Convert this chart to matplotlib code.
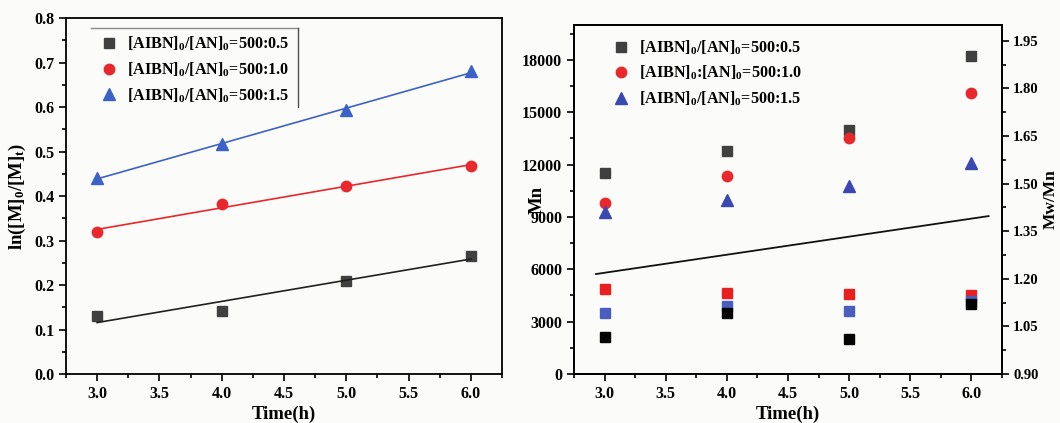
#!/usr/bin/env python3
"""
Kinetics of AN polymerisation: ln([M]0/[M]t) vs time and Mn, Mw/Mn vs time.
"""
import numpy as np
import matplotlib
matplotlib.use('Agg')
import matplotlib.pyplot as plt
from matplotlib.lines import Line2D
from matplotlib.ticker import MultipleLocator

plt.rcParams['font.family'] = ['Liberation Serif', 'DejaVu Serif']
plt.rcParams['font.weight'] = 'bold'
plt.rcParams['mathtext.fontset'] = 'custom'
plt.rcParams['mathtext.rm'] = 'Liberation Serif:bold'
plt.rcParams['mathtext.bf'] = 'Liberation Serif:bold'
plt.rcParams['mathtext.default'] = 'rm'

# ---- data ----
time_h = [3.0, 4.0, 5.0, 6.0]
labels = [r'[AIBN]$_0$/[AN]$_0$=500:0.5',
          r'[AIBN]$_0$/[AN]$_0$=500:1.0',
          r'[AIBN]$_0$/[AN]$_0$=500:1.5']
labels_right = [r'[AIBN]$_0$/[AN]$_0$=500:0.5',
                r'[AIBN]$_0$:[AN]$_0$=500:1.0',
                r'[AIBN]$_0$/[AN]$_0$=500:1.5']

# ln([M]0/[M]t)
lnm_05 = [0.130, 0.142, 0.210, 0.266]
lnm_10 = [0.320, 0.381, 0.422, 0.468]
lnm_15 = [0.440, 0.518, 0.593, 0.680]

# Mn
mn_05 = [11500, 12800, 14000, 18200]
mn_10 = [9800, 11350, 13550, 16100]
mn_15 = [9300, 10000, 10800, 12100]

# Mw/Mn
pdi_05 = [1.018, 1.092, 1.010, 1.121]
pdi_10 = [1.167, 1.155, 1.153, 1.149]
pdi_15 = [1.092, 1.113, 1.100, 1.129]

# trend line drawn across the Mn panel
trend_x = [2.93, 6.14]
trend_y = [5730, 9050]

c_black = '#404040'
c_red = '#e8282c'
c_blue = '#3c62c8'
bg = '#fbfbf9'

TICK_FS = 11.5
LABEL_FS = 13.5
LEG_FS = 11.6

fig = plt.figure(figsize=(10.6, 4.23), dpi=100, facecolor=bg)
ax1 = fig.add_axes([0.0623, 0.1158, 0.4113, 0.8416], facecolor=bg)
ax2 = fig.add_axes([0.5415, 0.1158, 0.4038, 0.8251], facecolor=bg)
ax3 = ax2.twinx()


def style_axis(ax):
    for s in ax.spines.values():
        s.set_linewidth(1.3)
    ax.tick_params(which='both', direction='out', width=1.2, labelsize=TICK_FS)
    ax.tick_params(which='major', length=5)
    ax.tick_params(which='minor', length=3)
    for lab in ax.get_xticklabels() + ax.get_yticklabels():
        lab.set_fontweight('bold')


# ---- left panel ----
series = [(lnm_05, c_black, 's', 7), (lnm_10, c_red, 'o', 7.5), (lnm_15, c_blue, '^', 8)]
handles = []
for (vals, col, mk, size), lab in zip(series, labels):
    h, = ax1.plot(time_h, vals, linestyle='none', marker=mk, markersize=size,
                  color=col, label=lab)
    handles.append(h)
    k, b = np.polyfit(time_h, vals, 1)
    xs = np.array([time_h[0], time_h[-1]])
    ax1.plot(xs, k * xs + b, color=col if col != c_black else '#202020', lw=1.2)

ax1.set_xlim(2.75, 6.25)
ax1.set_ylim(0, 0.8)
ax1.xaxis.set_major_locator(MultipleLocator(0.5))
ax1.xaxis.set_minor_locator(MultipleLocator(0.25))
ax1.yaxis.set_major_locator(MultipleLocator(0.1))
ax1.yaxis.set_minor_locator(MultipleLocator(0.05))
ax1.xaxis.set_major_formatter(plt.FormatStrFormatter('%.1f'))
ax1.yaxis.set_major_formatter(plt.FormatStrFormatter('%.1f'))
style_axis(ax1)
ax1.set_xlabel('Time(h)', fontsize=LABEL_FS, fontweight='bold', labelpad=3)
ax1.set_ylabel(r'ln([M]$_0$/[M]$_t$)', fontsize=LABEL_FS, fontweight='bold')
ax1.yaxis.set_label_coords(-0.087, 0.5)

leg1 = ax1.legend(handles=handles, loc='upper left', bbox_to_anchor=(0.055, 0.98),
                  frameon=False, prop={'size': LEG_FS, 'weight': 'bold'},
                  handletextpad=0.5, labelspacing=0.45, handlelength=1.2,
                  borderaxespad=0.2)

# ---- right panel ----
mn_series = [(mn_05, c_black, 's', 7), (mn_10, c_red, 'o', 7.5), (mn_15, '#3a48b0', '^', 8)]
handles2 = []
for (vals, col, mk, size), lab in zip(mn_series, labels_right):
    h, = ax2.plot(time_h, vals, linestyle='none', marker=mk, markersize=size,
                  color=col, label=lab)
    handles2.append(h)
ax2.plot(trend_x, trend_y, color='#111111', lw=1.3)

for vals, col in [(pdi_10, '#ea2020'), (pdi_15, '#4a5ec0'), (pdi_05, '#050505')]:
    ax3.plot(time_h, vals, linestyle='none', marker='s', markersize=7, color=col)

ax2.set_xlim(2.75, 6.25)
ax2.set_ylim(0, 20000)
ax3.set_ylim(0.9, 2.0)
ax2.xaxis.set_major_locator(MultipleLocator(0.5))
ax2.xaxis.set_minor_locator(MultipleLocator(0.25))
ax2.yaxis.set_major_locator(MultipleLocator(3000))
ax2.yaxis.set_minor_locator(MultipleLocator(1500))
ax3.yaxis.set_major_locator(MultipleLocator(0.15))
ax3.yaxis.set_minor_locator(MultipleLocator(0.075))
ax2.xaxis.set_major_formatter(plt.FormatStrFormatter('%.1f'))
ax3.yaxis.set_major_formatter(plt.FormatStrFormatter('%.2f'))
style_axis(ax2)
style_axis(ax3)
ax3.tick_params(axis='y', labelsize=10.5, pad=3)
ax2.set_xlabel('Time(h)', fontsize=LABEL_FS, fontweight='bold', labelpad=3)
ax2.set_ylabel('Mn', fontsize=LABEL_FS, fontweight='bold')
ax2.yaxis.set_label_coords(-0.065, 0.5)
ax3.set_ylabel('Mw/Mn', fontsize=12.5, fontweight='bold')
ax3.yaxis.set_label_coords(1.094, 0.5)

ax2.legend(handles=handles2, loc='upper left', bbox_to_anchor=(0.065, 0.99),
           frameon=False, prop={'size': LEG_FS, 'weight': 'bold'},
           handletextpad=0.5, labelspacing=0.45, handlelength=1.2,
           borderaxespad=0.2)

# partial frame (top and right edges) around the left legend
fig.canvas.draw()
bb = leg1.get_window_extent().transformed(fig.transFigure.inverted())
x0, x1 = bb.x0 - 0.002, bb.x1 + 0.002
y0, y1 = bb.y0 + 0.01, bb.y1 + 0.002
fig.add_artist(Line2D([x0, x1], [y1, y1], transform=fig.transFigure,
                      color='#8a8a8a', lw=1.0))
fig.add_artist(Line2D([x1, x1], [y1, y0], transform=fig.transFigure,
                      color='#505050', lw=1.0))

fig.savefig('out.png', dpi=100, facecolor=bg)
